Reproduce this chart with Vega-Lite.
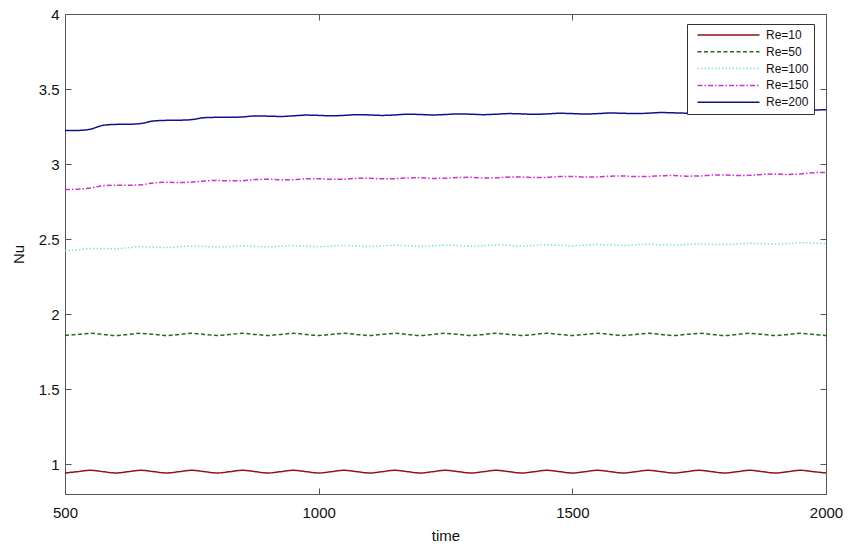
{
"$schema": "https://vega.github.io/schema/vega-lite/v6.json",
"autosize": "none",
"width": 761,
"height": 480,
"padding": {"left": 65, "top": 14, "right": 22, "bottom": 53},
"background": "white",
"config": {
  "view": {"stroke": null},
  "font": "Liberation Sans",
  "axis": {"grid": false, "domainColor": "#555", "tickColor": "#555", "tickSize": -6, "labelFontSize": 15, "labelColor": "#111", "titleFontSize": 15, "titleFontWeight": "normal", "titleColor": "#111"},
  "legend": {"orient": "none", "legendX": 622, "legendY": 10, "symbolType": "M-6.2,0H6.2", "symbolSize": 100, "symbolOffset": 30.5, "labelFontSize": 12, "labelColor": "#111", "labelOffset": 31.5, "padding": 5, "strokeColor": "#333", "fillColor": "white", "rowPadding": 4.8}
},
"data": {"values": [
{"t":500,"s":"Re=10","v":0.94},{"t":525,"s":"Re=10","v":0.949},{"t":550,"s":"Re=10","v":0.958},{"t":575,"s":"Re=10","v":0.949},
{"t":600,"s":"Re=10","v":0.94},{"t":625,"s":"Re=10","v":0.949},{"t":650,"s":"Re=10","v":0.958},{"t":675,"s":"Re=10","v":0.949},
{"t":700,"s":"Re=10","v":0.94},{"t":725,"s":"Re=10","v":0.949},{"t":750,"s":"Re=10","v":0.958},{"t":775,"s":"Re=10","v":0.949},
{"t":800,"s":"Re=10","v":0.94},{"t":825,"s":"Re=10","v":0.949},{"t":850,"s":"Re=10","v":0.958},{"t":875,"s":"Re=10","v":0.949},
{"t":900,"s":"Re=10","v":0.94},{"t":925,"s":"Re=10","v":0.949},{"t":950,"s":"Re=10","v":0.958},{"t":975,"s":"Re=10","v":0.949},
{"t":1000,"s":"Re=10","v":0.94},{"t":1025,"s":"Re=10","v":0.949},{"t":1050,"s":"Re=10","v":0.958},{"t":1075,"s":"Re=10","v":0.949},
{"t":1100,"s":"Re=10","v":0.94},{"t":1125,"s":"Re=10","v":0.949},{"t":1150,"s":"Re=10","v":0.958},{"t":1175,"s":"Re=10","v":0.949},
{"t":1200,"s":"Re=10","v":0.94},{"t":1225,"s":"Re=10","v":0.949},{"t":1250,"s":"Re=10","v":0.958},{"t":1275,"s":"Re=10","v":0.949},
{"t":1300,"s":"Re=10","v":0.94},{"t":1325,"s":"Re=10","v":0.949},{"t":1350,"s":"Re=10","v":0.958},{"t":1375,"s":"Re=10","v":0.949},
{"t":1400,"s":"Re=10","v":0.94},{"t":1425,"s":"Re=10","v":0.949},{"t":1450,"s":"Re=10","v":0.958},{"t":1475,"s":"Re=10","v":0.949},
{"t":1500,"s":"Re=10","v":0.94},{"t":1525,"s":"Re=10","v":0.949},{"t":1550,"s":"Re=10","v":0.958},{"t":1575,"s":"Re=10","v":0.949},
{"t":1600,"s":"Re=10","v":0.94},{"t":1625,"s":"Re=10","v":0.949},{"t":1650,"s":"Re=10","v":0.958},{"t":1675,"s":"Re=10","v":0.949},
{"t":1700,"s":"Re=10","v":0.94},{"t":1725,"s":"Re=10","v":0.949},{"t":1750,"s":"Re=10","v":0.958},{"t":1775,"s":"Re=10","v":0.949},
{"t":1800,"s":"Re=10","v":0.94},{"t":1825,"s":"Re=10","v":0.949},{"t":1850,"s":"Re=10","v":0.958},{"t":1875,"s":"Re=10","v":0.949},
{"t":1900,"s":"Re=10","v":0.94},{"t":1925,"s":"Re=10","v":0.949},{"t":1950,"s":"Re=10","v":0.958},{"t":1975,"s":"Re=10","v":0.949},
{"t":2000,"s":"Re=10","v":0.94},
{"t":500,"s":"Re=50","v":1.857},{"t":525,"s":"Re=50","v":1.864},{"t":550,"s":"Re=50","v":1.871},{"t":575,"s":"Re=50","v":1.864},
{"t":600,"s":"Re=50","v":1.857},{"t":625,"s":"Re=50","v":1.864},{"t":650,"s":"Re=50","v":1.871},{"t":675,"s":"Re=50","v":1.864},
{"t":700,"s":"Re=50","v":1.857},{"t":725,"s":"Re=50","v":1.864},{"t":750,"s":"Re=50","v":1.871},{"t":775,"s":"Re=50","v":1.864},
{"t":800,"s":"Re=50","v":1.857},{"t":825,"s":"Re=50","v":1.864},{"t":850,"s":"Re=50","v":1.871},{"t":875,"s":"Re=50","v":1.864},
{"t":900,"s":"Re=50","v":1.857},{"t":925,"s":"Re=50","v":1.864},{"t":950,"s":"Re=50","v":1.871},{"t":975,"s":"Re=50","v":1.864},
{"t":1000,"s":"Re=50","v":1.857},{"t":1025,"s":"Re=50","v":1.864},{"t":1050,"s":"Re=50","v":1.871},{"t":1075,"s":"Re=50","v":1.864},
{"t":1100,"s":"Re=50","v":1.857},{"t":1125,"s":"Re=50","v":1.864},{"t":1150,"s":"Re=50","v":1.871},{"t":1175,"s":"Re=50","v":1.864},
{"t":1200,"s":"Re=50","v":1.857},{"t":1225,"s":"Re=50","v":1.864},{"t":1250,"s":"Re=50","v":1.871},{"t":1275,"s":"Re=50","v":1.864},
{"t":1300,"s":"Re=50","v":1.857},{"t":1325,"s":"Re=50","v":1.864},{"t":1350,"s":"Re=50","v":1.871},{"t":1375,"s":"Re=50","v":1.864},
{"t":1400,"s":"Re=50","v":1.857},{"t":1425,"s":"Re=50","v":1.864},{"t":1450,"s":"Re=50","v":1.871},{"t":1475,"s":"Re=50","v":1.864},
{"t":1500,"s":"Re=50","v":1.857},{"t":1525,"s":"Re=50","v":1.864},{"t":1550,"s":"Re=50","v":1.871},{"t":1575,"s":"Re=50","v":1.864},
{"t":1600,"s":"Re=50","v":1.857},{"t":1625,"s":"Re=50","v":1.864},{"t":1650,"s":"Re=50","v":1.871},{"t":1675,"s":"Re=50","v":1.864},
{"t":1700,"s":"Re=50","v":1.857},{"t":1725,"s":"Re=50","v":1.864},{"t":1750,"s":"Re=50","v":1.871},{"t":1775,"s":"Re=50","v":1.864},
{"t":1800,"s":"Re=50","v":1.857},{"t":1825,"s":"Re=50","v":1.864},{"t":1850,"s":"Re=50","v":1.871},{"t":1875,"s":"Re=50","v":1.864},
{"t":1900,"s":"Re=50","v":1.857},{"t":1925,"s":"Re=50","v":1.864},{"t":1950,"s":"Re=50","v":1.871},{"t":1975,"s":"Re=50","v":1.864},
{"t":2000,"s":"Re=50","v":1.857},
{"t":500,"s":"Re=100","v":2.422},{"t":525,"s":"Re=100","v":2.428},{"t":550,"s":"Re=100","v":2.436},{"t":575,"s":"Re=100","v":2.436},
{"t":600,"s":"Re=100","v":2.435},{"t":625,"s":"Re=100","v":2.442},{"t":650,"s":"Re=100","v":2.448},{"t":675,"s":"Re=100","v":2.446},
{"t":700,"s":"Re=100","v":2.443},{"t":725,"s":"Re=100","v":2.448},{"t":750,"s":"Re=100","v":2.453},{"t":775,"s":"Re=100","v":2.45},
{"t":800,"s":"Re=100","v":2.446},{"t":825,"s":"Re=100","v":2.45},{"t":850,"s":"Re=100","v":2.455},{"t":875,"s":"Re=100","v":2.451},
{"t":900,"s":"Re=100","v":2.447},{"t":925,"s":"Re=100","v":2.452},{"t":950,"s":"Re=100","v":2.456},{"t":975,"s":"Re=100","v":2.453},
{"t":1000,"s":"Re=100","v":2.449},{"t":1025,"s":"Re=100","v":2.453},{"t":1050,"s":"Re=100","v":2.457},{"t":1075,"s":"Re=100","v":2.454},
{"t":1100,"s":"Re=100","v":2.45},{"t":1125,"s":"Re=100","v":2.454},{"t":1150,"s":"Re=100","v":2.458},{"t":1175,"s":"Re=100","v":2.455},
{"t":1200,"s":"Re=100","v":2.451},{"t":1225,"s":"Re=100","v":2.455},{"t":1250,"s":"Re=100","v":2.459},{"t":1275,"s":"Re=100","v":2.456},
{"t":1300,"s":"Re=100","v":2.452},{"t":1325,"s":"Re=100","v":2.456},{"t":1350,"s":"Re=100","v":2.46},{"t":1375,"s":"Re=100","v":2.457},
{"t":1400,"s":"Re=100","v":2.453},{"t":1425,"s":"Re=100","v":2.457},{"t":1450,"s":"Re=100","v":2.461},{"t":1475,"s":"Re=100","v":2.458},
{"t":1500,"s":"Re=100","v":2.455},{"t":1525,"s":"Re=100","v":2.459},{"t":1550,"s":"Re=100","v":2.463},{"t":1575,"s":"Re=100","v":2.46},
{"t":1600,"s":"Re=100","v":2.457},{"t":1625,"s":"Re=100","v":2.461},{"t":1650,"s":"Re=100","v":2.465},{"t":1675,"s":"Re=100","v":2.462},
{"t":1700,"s":"Re=100","v":2.459},{"t":1725,"s":"Re=100","v":2.463},{"t":1750,"s":"Re=100","v":2.467},{"t":1775,"s":"Re=100","v":2.464},
{"t":1800,"s":"Re=100","v":2.463},{"t":1825,"s":"Re=100","v":2.467},{"t":1850,"s":"Re=100","v":2.471},{"t":1875,"s":"Re=100","v":2.469},
{"t":1900,"s":"Re=100","v":2.466},{"t":1925,"s":"Re=100","v":2.47},{"t":1950,"s":"Re=100","v":2.475},{"t":1975,"s":"Re=100","v":2.473},
{"t":2000,"s":"Re=100","v":2.47},
{"t":500,"s":"Re=150","v":2.83},{"t":525,"s":"Re=150","v":2.832},{"t":550,"s":"Re=150","v":2.84},{"t":575,"s":"Re=150","v":2.855},
{"t":600,"s":"Re=150","v":2.859},{"t":625,"s":"Re=150","v":2.858},{"t":650,"s":"Re=150","v":2.862},{"t":675,"s":"Re=150","v":2.874},
{"t":700,"s":"Re=150","v":2.878},{"t":725,"s":"Re=150","v":2.877},{"t":750,"s":"Re=150","v":2.879},{"t":775,"s":"Re=150","v":2.887},
{"t":800,"s":"Re=150","v":2.89},{"t":825,"s":"Re=150","v":2.888},{"t":850,"s":"Re=150","v":2.889},{"t":875,"s":"Re=150","v":2.896},
{"t":900,"s":"Re=150","v":2.898},{"t":925,"s":"Re=150","v":2.895},{"t":950,"s":"Re=150","v":2.896},{"t":975,"s":"Re=150","v":2.901},
{"t":1000,"s":"Re=150","v":2.902},{"t":1025,"s":"Re=150","v":2.898},{"t":1050,"s":"Re=150","v":2.899},{"t":1075,"s":"Re=150","v":2.904},
{"t":1100,"s":"Re=150","v":2.905},{"t":1125,"s":"Re=150","v":2.901},{"t":1150,"s":"Re=150","v":2.902},{"t":1175,"s":"Re=150","v":2.907},
{"t":1200,"s":"Re=150","v":2.908},{"t":1225,"s":"Re=150","v":2.904},{"t":1250,"s":"Re=150","v":2.905},{"t":1275,"s":"Re=150","v":2.91},
{"t":1300,"s":"Re=150","v":2.911},{"t":1325,"s":"Re=150","v":2.907},{"t":1350,"s":"Re=150","v":2.908},{"t":1375,"s":"Re=150","v":2.913},
{"t":1400,"s":"Re=150","v":2.914},{"t":1425,"s":"Re=150","v":2.91},{"t":1450,"s":"Re=150","v":2.911},{"t":1475,"s":"Re=150","v":2.916},
{"t":1500,"s":"Re=150","v":2.917},{"t":1525,"s":"Re=150","v":2.913},{"t":1550,"s":"Re=150","v":2.914},{"t":1575,"s":"Re=150","v":2.919},
{"t":1600,"s":"Re=150","v":2.92},{"t":1625,"s":"Re=150","v":2.916},{"t":1650,"s":"Re=150","v":2.917},{"t":1675,"s":"Re=150","v":2.922},
{"t":1700,"s":"Re=150","v":2.923},{"t":1725,"s":"Re=150","v":2.919},{"t":1750,"s":"Re=150","v":2.92},{"t":1775,"s":"Re=150","v":2.926},
{"t":1800,"s":"Re=150","v":2.927},{"t":1825,"s":"Re=150","v":2.923},{"t":1850,"s":"Re=150","v":2.925},{"t":1875,"s":"Re=150","v":2.931},
{"t":1900,"s":"Re=150","v":2.933},{"t":1925,"s":"Re=150","v":2.93},{"t":1950,"s":"Re=150","v":2.934},{"t":1975,"s":"Re=150","v":2.942},
{"t":2000,"s":"Re=150","v":2.944},
{"t":500,"s":"Re=200","v":3.224},{"t":525,"s":"Re=200","v":3.224},{"t":550,"s":"Re=200","v":3.232},{"t":575,"s":"Re=200","v":3.258},
{"t":600,"s":"Re=200","v":3.264},{"t":625,"s":"Re=200","v":3.265},{"t":650,"s":"Re=200","v":3.27},{"t":675,"s":"Re=200","v":3.287},
{"t":700,"s":"Re=200","v":3.291},{"t":725,"s":"Re=200","v":3.292},{"t":750,"s":"Re=200","v":3.296},{"t":775,"s":"Re=200","v":3.309},
{"t":800,"s":"Re=200","v":3.311},{"t":825,"s":"Re=200","v":3.311},{"t":850,"s":"Re=200","v":3.314},{"t":875,"s":"Re=200","v":3.32},
{"t":900,"s":"Re=200","v":3.319},{"t":925,"s":"Re=200","v":3.317},{"t":950,"s":"Re=200","v":3.321},{"t":975,"s":"Re=200","v":3.326},
{"t":1000,"s":"Re=200","v":3.324},{"t":1025,"s":"Re=200","v":3.321},{"t":1050,"s":"Re=200","v":3.324},{"t":1075,"s":"Re=200","v":3.329},
{"t":1100,"s":"Re=200","v":3.327},{"t":1125,"s":"Re=200","v":3.324},{"t":1150,"s":"Re=200","v":3.327},{"t":1175,"s":"Re=200","v":3.332},
{"t":1200,"s":"Re=200","v":3.33},{"t":1225,"s":"Re=200","v":3.327},{"t":1250,"s":"Re=200","v":3.33},{"t":1275,"s":"Re=200","v":3.334},
{"t":1300,"s":"Re=200","v":3.332},{"t":1325,"s":"Re=200","v":3.329},{"t":1350,"s":"Re=200","v":3.332},{"t":1375,"s":"Re=200","v":3.336},
{"t":1400,"s":"Re=200","v":3.334},{"t":1425,"s":"Re=200","v":3.331},{"t":1450,"s":"Re=200","v":3.334},{"t":1475,"s":"Re=200","v":3.338},
{"t":1500,"s":"Re=200","v":3.336},{"t":1525,"s":"Re=200","v":3.333},{"t":1550,"s":"Re=200","v":3.336},{"t":1575,"s":"Re=200","v":3.34},
{"t":1600,"s":"Re=200","v":3.338},{"t":1625,"s":"Re=200","v":3.336},{"t":1650,"s":"Re=200","v":3.339},{"t":1675,"s":"Re=200","v":3.343},
{"t":1700,"s":"Re=200","v":3.341},{"t":1725,"s":"Re=200","v":3.339},{"t":1750,"s":"Re=200","v":3.342},{"t":1775,"s":"Re=200","v":3.346},
{"t":1800,"s":"Re=200","v":3.345},{"t":1825,"s":"Re=200","v":3.343},{"t":1850,"s":"Re=200","v":3.346},{"t":1875,"s":"Re=200","v":3.35},
{"t":1900,"s":"Re=200","v":3.349},{"t":1925,"s":"Re=200","v":3.348},{"t":1950,"s":"Re=200","v":3.354},{"t":1975,"s":"Re=200","v":3.359},
{"t":2000,"s":"Re=200","v":3.362}
]},
"layer": [
  {
    "mark": {"type": "line", "interpolate": "monotone"},
    "encoding": {
      "x": {"field": "t", "type": "quantitative", "scale": {"domain": [500, 2000], "nice": false, "zero": false},
            "axis": {"orient": "bottom", "title": "time", "values": [500, 1000, 1500, 2000], "format": "d", "labelPadding": 17, "titlePadding": 8, "labelFlush": false}},
      "y": {"field": "v", "type": "quantitative", "scale": {"domain": [0.8, 4], "nice": false, "zero": false},
            "axis": {"orient": "left", "title": "Nu", "values": [1, 1.5, 2, 2.5, 3, 3.5, 4], "format": "~g", "labelPadding": 12, "titlePadding": 12, "labelFlush": false}},
      "color": {"field": "s", "type": "nominal", "legend": {"title": null},
                "scale": {"domain": ["Re=10", "Re=50", "Re=100", "Re=150", "Re=200"], "range": ["#8e1414", "#1f6b1f", "#7fe0e0", "#cc33cc", "#10108a"]}},
      "strokeDash": {"field": "s", "type": "nominal", "legend": {"title": null},
                "scale": {"domain": ["Re=10", "Re=50", "Re=100", "Re=150", "Re=200"], "range": [[1, 0], [4, 2.5], [1.5, 2], [5, 2, 1.5, 2], [1, 0]]}},
      "strokeWidth": {"field": "s", "type": "nominal", "legend": {"title": null},
                "scale": {"domain": ["Re=10", "Re=50", "Re=100", "Re=150", "Re=200"], "range": [1.5, 1.5, 1.5, 1.5, 2.5]}}
    }
  },
  {
    "mark": {"type": "line", "strokeOpacity": 0},
    "encoding": {
      "x": {"field": "t", "type": "quantitative", "axis": {"orient": "top", "labels": false, "title": null, "values": [500, 1000, 1500, 2000]}},
      "y": {"field": "v", "type": "quantitative", "axis": {"orient": "right", "labels": false, "title": null, "values": [1, 1.5, 2, 2.5, 3, 3.5, 4]}},
      "detail": {"field": "s", "type": "nominal"}
    }
  }
],
"resolve": {"axis": {"x": "independent", "y": "independent"}}
}
